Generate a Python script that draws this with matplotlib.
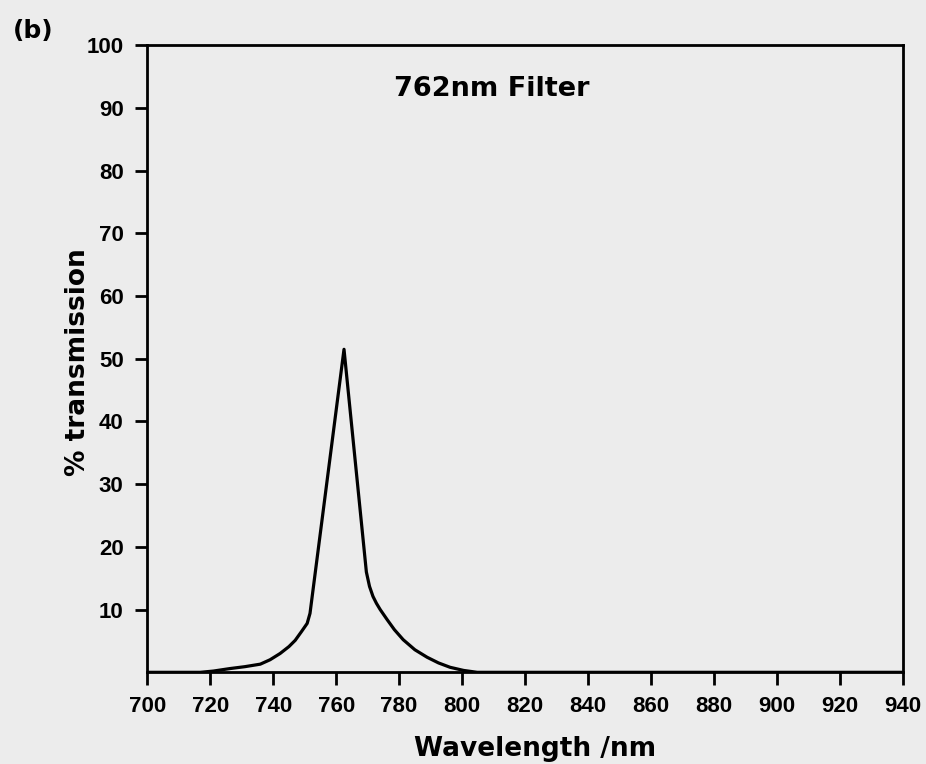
import matplotlib.pyplot as plt

# Пропускання фільтра 762 нм
wavelength = [700, 716.8, 721, 726.3, 731, 735.9, 739, 742.2, 745, 747, 749, 750.8, 751.7,
              762.5,
              769.6, 770.6, 771.7, 772.8, 774, 776.2, 778.5, 781.3, 785, 788.9, 792.5, 796.2,
              800.5, 804.8, 940]
transmission = [0, 0, 0.2, 0.6, 0.9, 1.3, 2.0, 3.0, 4.1, 5.1, 6.5, 7.8, 9.4,
                51.5,
                16.0, 13.7, 12.1, 11.0, 10.0, 8.4, 6.8, 5.2, 3.6, 2.4, 1.5, 0.8,
                0.3, 0, 0]

x_ticks = list(range(700, 941, 20))
y_ticks = list(range(10, 101, 10))

plt.rcParams['font.family'] = ['Liberation Sans', 'DejaVu Sans']
plt.rcParams['font.weight'] = 'bold'

bg = '#ececec'
fig = plt.figure(figsize=(9.26, 7.64), dpi=100, facecolor=bg)
ax = fig.add_axes([0.159, 0.120, 0.816, 0.821], facecolor=bg)

ax.plot(wavelength, transmission, color='black', linewidth=2.3,
        solid_joinstyle='round', solid_capstyle='butt')

ax.set_xlim(700, 940)
ax.set_ylim(0, 100)
ax.set_xticks(x_ticks)
ax.set_yticks(y_ticks)
ax.tick_params(direction='out', length=9, width=2, labelsize=16, pad=8)
for s in ax.spines.values():
    s.set_linewidth(2)

wide = ['DejaVu Sans']
ax.set_xlabel('Wavelength /nm', fontsize=19, fontweight='bold', family=wide)
ax.xaxis.set_label_coords(0.513, -0.101)
ax.xaxis.label.set_va('top')
ax.set_ylabel('% transmission', fontsize=19, fontweight='bold', family=wide)
ax.yaxis.set_label_coords(-0.074, 0.494)
ax.text(809.5, 93.0, '762nm Filter', fontsize=19.5, fontweight='bold', family=wide,
        ha='center', va='center')
fig.text(0.014, 0.959, '(b)', fontsize=18, fontweight='bold', family=wide,
         ha='left', va='center')

fig.savefig('out.png', dpi=100, facecolor=bg)
